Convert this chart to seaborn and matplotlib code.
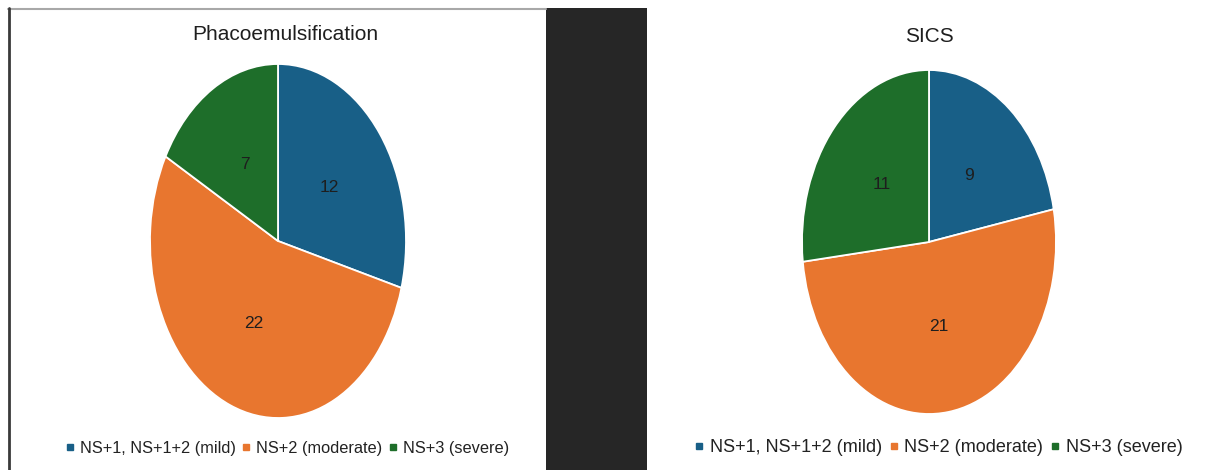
import matplotlib
matplotlib.use("Agg")
import matplotlib.pyplot as plt
from matplotlib.patches import Rectangle
from matplotlib.lines import Line2D
import seaborn as sns

# data
categories = ["NS+1, NS+1+2 (mild)", "NS+2 (moderate)", "NS+3 (severe)"]
phaco_counts = [12, 22, 7]
sics_counts = [9, 21, 11]
titles = ["Phacoemulsification", "SICS"]

colors = ["#185f87", "#e8762f", "#1e6e2a"]

sns.set_theme(style="white")
plt.rcParams['font.family'] = ['Liberation Sans', 'DejaVu Sans']

W, H = 1206, 470
fig = plt.figure(figsize=(W / 100, H / 100), dpi=100)
fig.patch.set_facecolor("white")


def fx(x):
    return x / W


def fy(y):
    return 1 - y / H


# panel decorations (left border, dark band)
fig.add_artist(Rectangle((fx(546), 0), fx(647) - fx(546), fy(8), transform=fig.transFigure,
                         facecolor="#262626", edgecolor="none", zorder=0))
fig.add_artist(Line2D([fx(8), fx(546)], [fy(8.5), fy(8.5)], transform=fig.transFigure,
                      color="#a8a8a8", lw=1.5))
fig.add_artist(Line2D([fx(8.5), fx(8.5)], [fy(8), 0], transform=fig.transFigure,
                      color="#3a3a3a", lw=2))

# pie boxes (x0, x1, y0, y1) in pixels, image looks vertically stretched
boxes = [(150, 406, 64, 418), (802, 1056, 70, 414)]
title_pos = [(285, 35), (929, 37)]
legend_pos = [(287, 448), (938, 448)]
legend_size = [11.8, 13]

for counts, box, title, tpos, lpos, lsize in zip([phaco_counts, sics_counts], boxes, titles,
                                                 title_pos, legend_pos, legend_size):
    x0, x1, y0, y1 = box
    ax = fig.add_axes([fx(x0), fy(y1), fx(x1) - fx(x0), fy(y0) - fy(y1)])
    wedges, texts = ax.pie(counts, labels=[str(c) for c in counts], colors=colors,
                           startangle=90, counterclock=False, labeldistance=0.5,
                           wedgeprops=dict(edgecolor="white", linewidth=1.3),
                           textprops=dict(fontsize=12.5, color="#1e1e1e"))
    for t in texts:
        t.set_horizontalalignment("center")
        t.set_verticalalignment("center")
    ax.set_aspect("auto")
    ax.set_xlim(-1, 1)
    ax.set_ylim(-1, 1)
    ax.axis("off")

    fig.text(fx(tpos[0]), fy(tpos[1]), title, ha="center", va="center",
             fontsize=15, color="#1e1e1e")

    handles = [Line2D([], [], marker="s", linestyle="none", markersize=5,
                      markerfacecolor=c, markeredgecolor=c) for c in colors]
    fig.legend(handles, categories, ncol=3, loc="center", frameon=False,
               bbox_to_anchor=(fx(lpos[0]), fy(lpos[1])),
               handlelength=0.6, handletextpad=0.3, columnspacing=0.35,
               fontsize=lsize, labelcolor="#222222")

plt.savefig("out.png", dpi=100, facecolor="white")
